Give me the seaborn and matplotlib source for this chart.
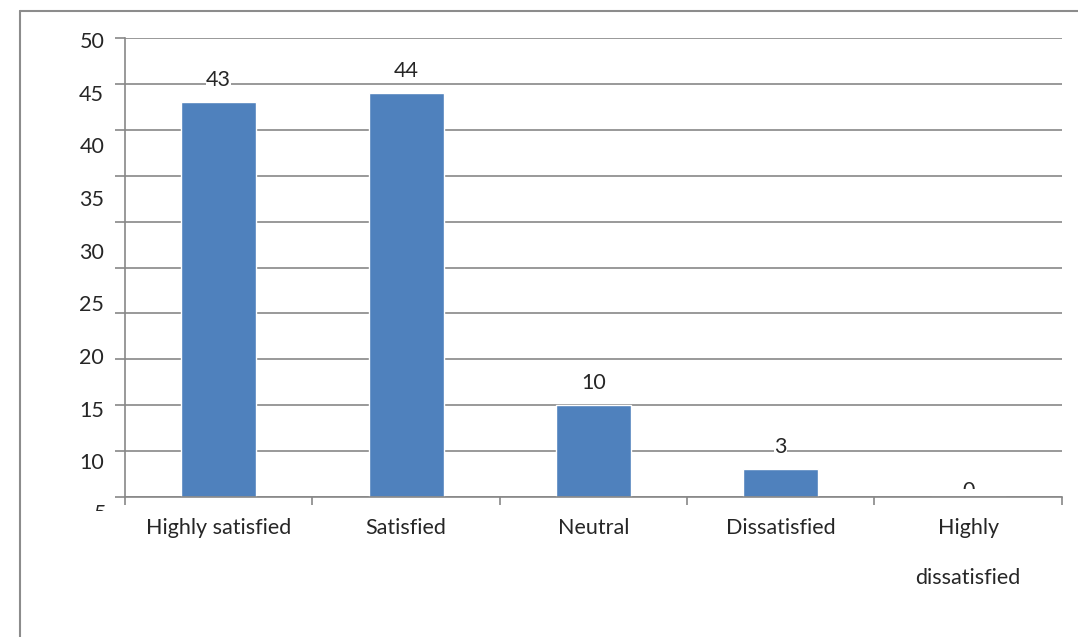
import numpy as np
import pandas as pd
import matplotlib
matplotlib.use("Agg")
import matplotlib.pyplot as plt
import seaborn as sns
from matplotlib.lines import Line2D
from matplotlib.transforms import Bbox

categories = ["Highly satisfied", "Satisfied", "Neutral", "Dissatisfied", "Highly\n\ndissatisfied"]
values = [43, 44, 10, 3, 0]
ytick_labels = [50, 45, 40, 35, 30, 25, 20, 15, 10, 5]

sns.set_style("white")
plt.rcParams["font.family"] = ["Lato", "DejaVu Sans"]

bar_color = "#4F81BD"
grid_color = "#878787"
fs = 15.5

df = pd.DataFrame({"cat": categories, "val": values})

fig = plt.figure(figsize=(10.78, 6.37), dpi=100)
ax = fig.add_axes([0.116, 0.2198, 0.869, 0.7205])

ax.set_axisbelow(True)
ax.yaxis.grid(True, color=grid_color, linewidth=1.2)
sns.barplot(data=df, x="cat", y="val", color=bar_color, saturation=1, width=0.4, ax=ax)

ax.set_ylim(0, 50)
ax.set_xlim(-0.5, 4.5)
ax.set_yticks(np.arange(0, 51, 5))
ax.tick_params(axis="y", which="major", length=7, width=1.2, color=grid_color,
               left=True, labelleft=False, direction="out")
ax.set_xticks(range(len(categories)))
ax.set_xticklabels(categories, fontsize=fs, linespacing=1.33, va="top")
ax.tick_params(axis="x", which="major", length=0, pad=15)
ax.set_xticks(np.arange(-0.5, 4.6, 1), minor=True)
ax.tick_params(axis="x", which="minor", length=6, width=1.2, color=grid_color,
               bottom=True, direction="out")
ax.set_xlabel("")
ax.set_ylabel("")

for s in ["top", "right"]:
    ax.spines[s].set_visible(False)
for s in ["left", "bottom"]:
    ax.spines[s].set_color(grid_color)
    ax.spines[s].set_linewidth(1.2)

# value labels
for i, v in enumerate(values):
    if v == 0:
        t = ax.text(i, v, str(v), ha="center", va="baseline", fontsize=fs, clip_on=True)
        t.set_clip_box(Bbox([[0, 637 - 489], [1078, 637]]))
    else:
        ax.annotate(str(v), (i, v), xytext=(0, 16), textcoords="offset points",
                    ha="center", va="center", fontsize=fs, annotation_clip=False,
                    bbox=dict(facecolor="white", edgecolor="none", pad=0.1))

# y tick labels (drawn on a second scale, as in the source chart)
ax2 = ax.twinx()
ax2.set_ylim(6.6, 50.19)
ax2.set_yticks([v for v in ytick_labels if v >= 10])
ax2.yaxis.set_ticks_position("left")
ax2.tick_params(axis="y", length=0, pad=15, labelsize=fs)
for s in ax2.spines.values():
    s.set_visible(False)
t5 = ax2.text(-0.0195, 5, "5", transform=ax2.get_yaxis_transform(), ha="right",
              va="center", fontsize=fs, clip_on=True)
t5.set_clip_box(Bbox([[0, 637 - 511], [1078, 637]]))

# outer frame
fig.add_artist(Line2D([20 / 1078, 20 / 1078], [0, 1 - 11 / 637], color="#8c8c8c", lw=1.5,
                      transform=fig.transFigure))
fig.add_artist(Line2D([20 / 1078, 1], [1 - 11 / 637, 1 - 11 / 637], color="#8c8c8c", lw=1.5,
                      transform=fig.transFigure))

fig.savefig("out.png", dpi=100)
